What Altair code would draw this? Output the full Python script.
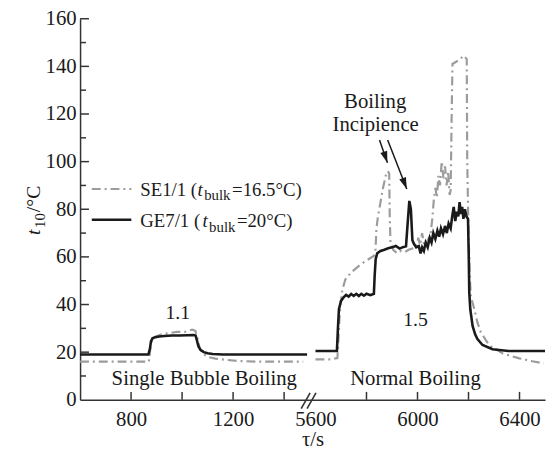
import altair as alt
import pandas as pd

# ---------------- data ----------------
# GE7/1 (t_bulk = 20 °C), single bubble boiling period (heat flux 1.1)
ge_left_t = [600, 700, 800, 868, 874, 878, 884, 895, 910, 930, 960, 990, 1020, 1045, 1053,
             1058, 1064, 1072, 1085, 1100, 1120, 1160, 1250, 1350, 1490]
ge_left_v = [19, 19, 19, 19, 21.5, 24.5, 25.8, 26.3, 26.6, 26.8, 27, 27, 27.1, 27.2, 27,
             25, 22.5, 21, 20, 19.5, 19.2, 19, 19, 19, 19]

# SE1/1 (t_bulk = 16.5 °C), single bubble boiling period
se_left_t = [600, 700, 800, 870, 876, 882, 895, 920, 950, 980, 1010, 1040, 1052, 1060, 1068,
             1080, 1100, 1130, 1170, 1220, 1300, 1400, 1475]
se_left_v = [16, 16, 16, 16, 22, 25.5, 26.5, 27.5, 28, 28.5, 28.5, 29.5, 29, 26, 22,
             19.5, 18, 17.3, 16.8, 16.3, 16, 16, 16]

# GE7/1, normal boiling period (heat flux 1.5)
ge_right_t = [5600, 5684, 5688, 5692, 5700, 5710, 5720, 5730, 5740, 5750, 5760, 5770, 5780,
              5790, 5800, 5815, 5829, 5832, 5836, 5842, 5855, 5870, 5885, 5900, 5915, 5930,
              5945, 5955, 5962, 5968, 5974, 5980, 5986, 5995, 6005, 6012, 6018, 6025, 6032,
              6040, 6048, 6055, 6062, 6070, 6078, 6085, 6092, 6100, 6108, 6115, 6122, 6130,
              6136, 6142, 6148, 6154, 6160, 6165, 6170, 6175, 6180, 6186, 6192, 6198, 6201,
              6203, 6207, 6216, 6226, 6235, 6255, 6294, 6357, 6420, 6500]
ge_right_v = [20.5, 20.5, 30, 38, 41.5, 43, 44, 43.3, 44.4, 43.6, 44.5, 43.6, 44.5,
              43.7, 44.5, 43.9, 44.5, 52, 59, 61.5, 62.5, 63, 63.6, 64, 64.6, 63.5,
              64.2, 64.5, 75, 83.5, 80, 67, 65.5, 64, 64.5, 61.5, 64, 62.5, 66,
              64, 68, 66, 70, 67.5, 71, 68.5, 72, 69.5, 73, 70, 74, 72,
              77, 81, 75, 79, 77, 83, 78, 81, 76, 80, 77, 76, 60,
              45, 38, 31, 27.5, 25.5, 23, 21.2, 20.5, 20.5, 20.5]

# SE1/1, normal boiling period
se_right_t = [5600, 5660, 5686, 5690, 5694, 5698, 5705, 5717, 5740, 5774, 5800, 5830, 5835,
              5839, 5845, 5855, 5865, 5875, 5884, 5889, 5891, 5894, 5905, 5920, 5935, 5950,
              5965, 5980, 5995, 6003, 6010, 6018, 6026, 6035, 6045, 6052, 6058, 6064, 6070,
              6076, 6082, 6088, 6095, 6102, 6108, 6114, 6120, 6126, 6130, 6134, 6137, 6160,
              6182, 6190, 6193, 6195, 6200, 6205, 6209, 6223, 6235, 6248, 6281, 6335, 6399,
              6450, 6495]
se_right_v = [17, 17, 17.5, 25, 34, 40, 46, 50.5, 53.5, 56.6, 58.5, 60.5, 62,
              72, 77, 83, 89, 94, 96, 95, 78, 66, 63, 61.5, 62.5, 62,
              63, 63.5, 64, 68, 65, 70, 64.5, 66, 68, 70, 76, 84, 89,
              85, 94, 90, 100, 93, 98, 90, 96, 86, 88, 120, 141, 142.5,
              144.5, 143.5, 143, 100, 70, 52, 43.5, 38, 32.5, 28.4, 22.9, 19.4, 17.4,
              16.2, 15.3]

x_tick_positions = [800, 1000, 1200, 1400, 5800, 6000, 6200, 6400]
x_label_values = [800, 1200, 5600, 6000, 6400]
y_label_values = [0, 20, 40, 60, 80, 100, 120, 140, 160]
y_major = [20, 40, 60, 80, 100, 120, 140, 160]
y_minor = [10, 30, 50, 70, 90, 110, 130, 150]

# ---------------- broken axis mapping ----------------
SHIFT = 4077          # 5600 s is drawn right after the break (at 1523)
X_MIN, X_MAX = 600, 2423


def xp(t):
    return t if t < 3000 else t - SHIFT


def frame(t, v, seg):
    return pd.DataFrame({"xp": [xp(a) for a in t], "v": v, "seg": seg})


ge = pd.concat([frame(ge_left_t, ge_left_v, "a"), frame(ge_right_t, ge_right_v, "b")])
se = pd.concat([frame(se_left_t, se_left_v, "a"), frame(se_right_t, se_right_v, "b")])

FONT = "Liberation Serif"
INK = "#1a1a1a"
AX = "#333333"
GRAY = "#9c9c9c"
DASH = [9, 4, 2, 4]

xscale = alt.Scale(domain=[X_MIN, X_MAX], nice=False, zero=False)
yscale = alt.Scale(domain=[0, 160], nice=False, zero=False)

x_axis = alt.Axis(
    values=[xp(v) for v in x_label_values],
    labelExpr="datum.value < 1500 ? datum.value : datum.value + %d" % SHIFT,
    ticks=False, grid=False, domainColor=AX, domainWidth=1.5,
    labelFont=FONT, labelFontSize=21, labelColor=INK, labelPadding=9,
    title="τ/s", titleFont=FONT, titleFontSize=21, titleFontWeight="normal",
    titleColor=INK, titlePadding=-1, labelFlush=False,
)
y_axis = alt.Axis(
    values=y_label_values, ticks=False, grid=False,
    domainColor=AX, domainWidth=1.5, labelFont=FONT, labelFontSize=21,
    labelColor=INK, labelPadding=4, title="", labelFlush=False,
)


def X(field):
    return alt.X(field, type="quantitative", scale=xscale, axis=x_axis)


def Y(field):
    return alt.Y(field, type="quantitative", scale=yscale, axis=y_axis)


se_line = alt.Chart(se).mark_line(color=GRAY, strokeWidth=2.2, strokeDash=DASH).encode(
    x=X("xp"), y=Y("v"), detail="seg:N", order="xp:Q",
)
ge_line = alt.Chart(ge).mark_line(color=INK, strokeWidth=2.6).encode(
    x=X("xp"), y=Y("v"), detail="seg:N", order="xp:Q",
)

# inward ticks (drawn on the data scales)
xt = pd.DataFrame({"xp": [xp(v) for v in x_tick_positions], "v": [0] * len(x_tick_positions)})
x_ticks = alt.Chart(xt).mark_rule(color=AX, strokeWidth=1.5, y2Offset=-8).encode(
    x=X("xp"), y=Y("v"), y2="v:Q",
)
ytm = pd.DataFrame({"v": y_major, "xp": [X_MIN] * len(y_major)})
y_ticks_major = alt.Chart(ytm).mark_rule(color=AX, strokeWidth=1.5, x2Offset=9).encode(
    y=Y("v"), x=X("xp"), x2="xp:Q",
)
ytn = pd.DataFrame({"v": y_minor, "xp": [X_MIN] * len(y_minor)})
y_ticks_minor = alt.Chart(ytn).mark_rule(color=AX, strokeWidth=1.5, x2Offset=6).encode(
    y=Y("v"), x=X("xp"), x2="xp:Q",
)

# axis break marks
brk = pd.DataFrame({"xp": [1467, 1490], "x2": [1502, 1525], "v": [-3.7, -3.7], "y2": [2.9, 2.9]})
breaks = alt.Chart(brk).mark_rule(color=AX, strokeWidth=1.6).encode(
    x=X("xp"), x2="x2:Q", y=Y("v"), y2="y2:Q"
)

# legend (drawn by hand, like the original)
leg_se = alt.Chart(pd.DataFrame({"xp": [646], "x2": [801], "v": [88.5]})).mark_rule(
    color=GRAY, strokeWidth=2.2, strokeDash=DASH
).encode(x=X("xp"), x2="x2:Q", y=Y("v"))
leg_ge = alt.Chart(pd.DataFrame({"xp": [646], "x2": [801], "v": [75.6]})).mark_rule(
    color=INK, strokeWidth=2.6
).encode(x=X("xp"), x2="x2:Q", y=Y("v"))


def text_layer(df, size, style="normal", align="left"):
    return alt.Chart(df).mark_text(
        font=FONT, fontSize=size, fontStyle=style, align=align, baseline="alphabetic", color=INK
    ).encode(x=X("xp"), y=Y("v"), text="label:N")


leg_main = pd.DataFrame({
    "xp": [836, 1196, 836, 1215],
    "v": [85.6, 85.6, 72.5, 72.5],
    "label": ["SE1/1 (", "=16.5°C)", "GE7/1 (", "=20°C)"],
})
leg_t = pd.DataFrame({"xp": [1060.5, 1080], "v": [85.6, 72.5], "label": ["t", "t"]})
leg_sub = pd.DataFrame({"xp": [1086.5, 1106], "v": [83.7, 70.6], "label": ["bulk", "bulk"]})

notes_20 = pd.DataFrame({"xp": [983, xp(5992)], "v": [33.9, 31.1], "label": ["1.1", "1.5"]})
notes_21 = pd.DataFrame({
    "xp": [1087, xp(5992), xp(5834), xp(5836)],
    "v": [6.3, 6.3, 122.4, 113],
    "label": ["Single Bubble Boiling", "Normal Boiling", "Boiling", "Incipience"],
})

# arrows pointing at boiling incipience
arr = pd.DataFrame({
    "xp": [xp(5851), xp(5883)], "v": [109.1, 109.1],
    "x2": [xp(5882), xp(5958)], "y2": [99.5, 88.5],
    "ang": [341.6, 338.8],
})
arrow_shafts = alt.Chart(arr).mark_rule(color=INK, strokeWidth=1.5).encode(
    x=X("xp"), x2="x2:Q", y=Y("v"), y2="y2:Q"
)
arrow_heads = alt.Chart(arr).mark_point(
    shape="M0,0L-0.8,-2.6L0.8,-2.6Z", filled=True, color=INK, size=81, opacity=1
).encode(x=X("x2"), y=Y("y2"), angle=alt.Angle("ang:Q", scale=None))

# rotated y-axis title: t_10/°C
ytitle_t = alt.Chart(pd.DataFrame({"label": ["t"]})).mark_text(
    font=FONT, fontSize=20, fontStyle="italic", angle=270, align="left",
    baseline="alphabetic", color=INK
).encode(x=alt.value(-41), y=alt.value(219), text="label:N")
ytitle_sub = alt.Chart(pd.DataFrame({"label": ["10"]})).mark_text(
    font=FONT, fontSize=15, angle=270, align="left", baseline="alphabetic", color=INK
).encode(x=alt.value(-36), y=alt.value(212), text="label:N")
ytitle_rest = alt.Chart(pd.DataFrame({"label": ["/°C"]})).mark_text(
    font=FONT, fontSize=20, angle=270, align="left", baseline="alphabetic", color=INK
).encode(x=alt.value(-41), y=alt.value(196), text="label:N")

chart = alt.layer(
    se_line, ge_line, x_ticks, y_ticks_major, y_ticks_minor, breaks,
    leg_se, leg_ge,
    text_layer(leg_main, 19), text_layer(leg_t, 19, style="italic"), text_layer(leg_sub, 15),
    text_layer(notes_20, 20, align="center"), text_layer(notes_21, 21, align="center"),
    arrow_shafts, arrow_heads,
    ytitle_t, ytitle_sub, ytitle_rest,
).properties(
    width=471, height=386,
    autosize=alt.AutoSizeParams(type="none"),
    padding={"left": 73, "top": 8, "right": 2, "bottom": 49},
    background="white",
).configure_view(stroke=None)

chart.save("out.html", embed_options={"renderer": "svg", "actions": False})
